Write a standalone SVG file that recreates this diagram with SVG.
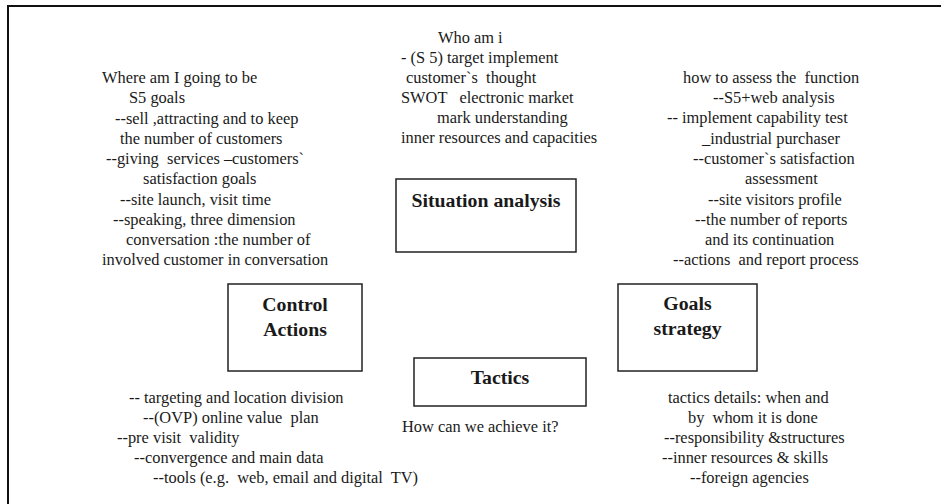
<svg xmlns="http://www.w3.org/2000/svg" width="941" height="504" viewBox="0 0 941 504">
<style>
  text { font-family: "Liberation Serif", "Times New Roman", serif; fill: #1a1a1a; white-space: pre; }
  .t { font-size: 16.4px; }
  .b { font-size: 19.8px; font-weight: bold; text-anchor: middle; }
  .box { fill: #fff; stroke: #222; stroke-width: 1.5; }
  .frame { fill: none; stroke: #111; stroke-width: 2; }
</style>
<rect width="941" height="504" fill="#fff"/>
<path class="frame" d="M8,504 V6 H941"/>
<g id="connectors"/>

<g id="situation-analysis">
  <rect class="box" x="396" y="179" width="180" height="73"/>
  <text class="b" x="486" y="207">Situation analysis</text>
</g>
<g id="control-actions">
  <rect class="box" x="228" y="284" width="134" height="87"/>
  <text class="b" x="295" y="311">Control</text>
  <text class="b" x="295" y="336">Actions</text>
</g>
<g id="tactics">
  <rect class="box" x="414" y="358" width="172" height="48"/>
  <text class="b" x="500" y="384">Tactics</text>
</g>
<g id="goals-strategy">
  <rect class="box" x="618" y="284" width="139" height="87"/>
  <text class="b" x="687.5" y="310">Goals</text>
  <text class="b" x="687.5" y="335">strategy</text>
</g>

<g id="text-who-am-i">
  <text class="t" x="438" y="43">Who am i</text>
  <text class="t" x="401" y="63">- (S 5) target implement</text>
  <text class="t" x="406" y="83">customer`s  thought</text>
  <text class="t" x="401" y="103">SWOT   electronic market</text>
  <text class="t" x="437" y="123">mark understanding</text>
  <text class="t" x="401" y="143">inner resources and capacities</text>
</g>

<g id="text-where">
  <text class="t" x="102" y="83">Where am I going to be</text>
  <text class="t" x="129" y="103">S5 goals</text>
  <text class="t" x="115" y="123.5">--sell ,attracting and to keep</text>
  <text class="t" x="120" y="144">the number of customers</text>
  <text class="t" x="106" y="164">--giving  services –customers`</text>
  <text class="t" x="143" y="184">satisfaction goals</text>
  <text class="t" x="120" y="205">--site launch, visit time</text>
  <text class="t" x="113" y="225">--speaking, three dimension</text>
  <text class="t" x="126" y="245">conversation :the number of</text>
  <text class="t" x="102" y="265">involved customer in conversation</text>
</g>

<g id="text-assess">
  <text class="t" x="683" y="83">how to assess the  function</text>
  <text class="t" x="713" y="103">--S5+web analysis</text>
  <text class="t" x="667" y="123">-- implement capability test</text>
  <text class="t" x="702" y="144">_industrial purchaser</text>
  <text class="t" x="693" y="164">--customer`s satisfaction</text>
  <text class="t" x="745" y="184">assessment</text>
  <text class="t" x="708" y="205">--site visitors profile</text>
  <text class="t" x="695" y="225">--the number of reports</text>
  <text class="t" x="705" y="245">and its continuation</text>
  <text class="t" x="673" y="265">--actions  and report process</text>
</g>

<g id="text-achieve">
  <text class="t" x="402" y="432">How can we achieve it?</text>
</g>

<g id="text-control">
  <text class="t" x="129" y="403">-- targeting and location division</text>
  <text class="t" x="143" y="423">--(OVP) online value  plan</text>
  <text class="t" x="117" y="443">--pre visit  validity</text>
  <text class="t" x="134" y="463">--convergence and main data</text>
  <text class="t" x="153" y="483">--tools (e.g.  web, email and digital  TV)</text>
</g>

<g id="text-tactics-details">
  <text class="t" x="668" y="403">tactics details: when and</text>
  <text class="t" x="688" y="423">by  whom it is done</text>
  <text class="t" x="664" y="443">--responsibility &amp;structures</text>
  <text class="t" x="662" y="463">--inner resources &amp; skills</text>
  <text class="t" x="690" y="483">--foreign agencies</text>
</g>
</svg>
